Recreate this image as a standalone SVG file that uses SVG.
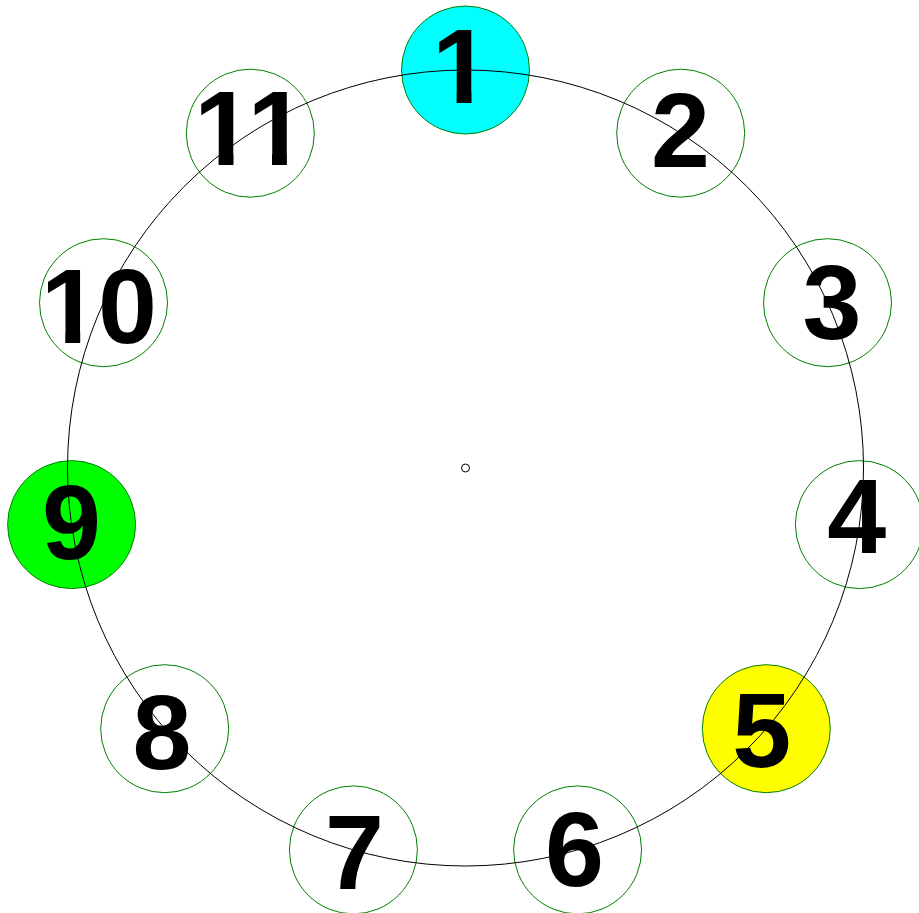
<svg xmlns="http://www.w3.org/2000/svg" width="919" height="913" viewBox="0 0 919 913">
<style>
.node{fill:#ffffff;stroke:#008000;stroke-width:1}
.lbl{font-family:"Liberation Sans",Arial,sans-serif;font-weight:bold;font-size:106px;fill:#000000;text-anchor:middle}
.lbs{font-family:"Liberation Sans",Arial,sans-serif;font-weight:bold;font-size:106px;fill:#000000;text-anchor:start}
.ring{fill:none;stroke:#000000;stroke-width:1}
</style>
<defs>
<clipPath id="c1" clipPathUnits="userSpaceOnUse">
<rect x="380" y="0" width="160" height="91.8"/>
<rect x="456.6" y="88" width="14.9" height="20"/>
</clipPath>
<clipPath id="c11" clipPathUnits="userSpaceOnUse">
<rect x="180" y="60" width="140" height="93.8"/>
<rect x="218.6" y="150" width="14.9" height="20"/>
<rect x="272" y="150" width="14.9" height="20"/>
</clipPath>
<clipPath id="c10" clipPathUnits="userSpaceOnUse">
<rect x="30" y="230" width="150" height="101.8"/>
<rect x="65.3" y="328" width="14.9" height="20"/>
<rect x="99" y="320" width="70" height="40"/>
</clipPath>
</defs>
<rect width="919" height="913" fill="#ffffff"/>
<g id="n1"><circle class="node" cx="465.5" cy="70" r="64" style="fill:#00ffff"/></g>
<g id="n2"><circle class="node" cx="680.7" cy="133.2" r="64"/></g>
<g id="n3"><circle class="node" cx="827.5" cy="302.7" r="64"/></g>
<g id="n4"><circle class="node" cx="859.4" cy="524.6" r="64"/></g>
<g id="n5"><circle class="node" cx="766.3" cy="728.7" r="64" style="fill:#ffff00"/></g>
<g id="n6"><circle class="node" cx="577.6" cy="849.9" r="64"/></g>
<g id="n7"><circle class="node" cx="353.4" cy="849.9" r="64"/></g>
<g id="n8"><circle class="node" cx="164.7" cy="728.7" r="64"/></g>
<g id="n9"><circle class="node" cx="71.6" cy="524.6" r="64" style="fill:#00ff00"/></g>
<g id="n10"><circle class="node" cx="103.5" cy="302.7" r="64"/></g>
<g id="n11"><circle class="node" cx="250.3" cy="133.2" r="64"/></g>
<g id="connectors">
<circle class="ring" cx="465.5" cy="468" r="398"/>
<circle class="ring" cx="465.5" cy="468" r="4"/>
</g>
<g id="labels">
<text class="lbs" x="432" y="103" clip-path="url(#c1)">1</text>
<text class="lbl" x="680.5" y="167">2</text>
<text class="lbl" x="832" y="339">3</text>
<text class="lbl" x="856.7" y="553">4</text>
<text class="lbl" x="761.7" y="767">5</text>
<text class="lbl" x="574.5" y="886">6</text>
<text class="lbl" x="354.5" y="889">7</text>
<text class="lbl" x="162" y="769">8</text>
<text class="lbl" x="71.5" y="559">9</text>
<text class="lbs" x="40.7 98" y="343" clip-path="url(#c10)">10</text>
<text class="lbs" x="194 247.4" y="165" clip-path="url(#c11)">11</text>
</g>
</svg>
